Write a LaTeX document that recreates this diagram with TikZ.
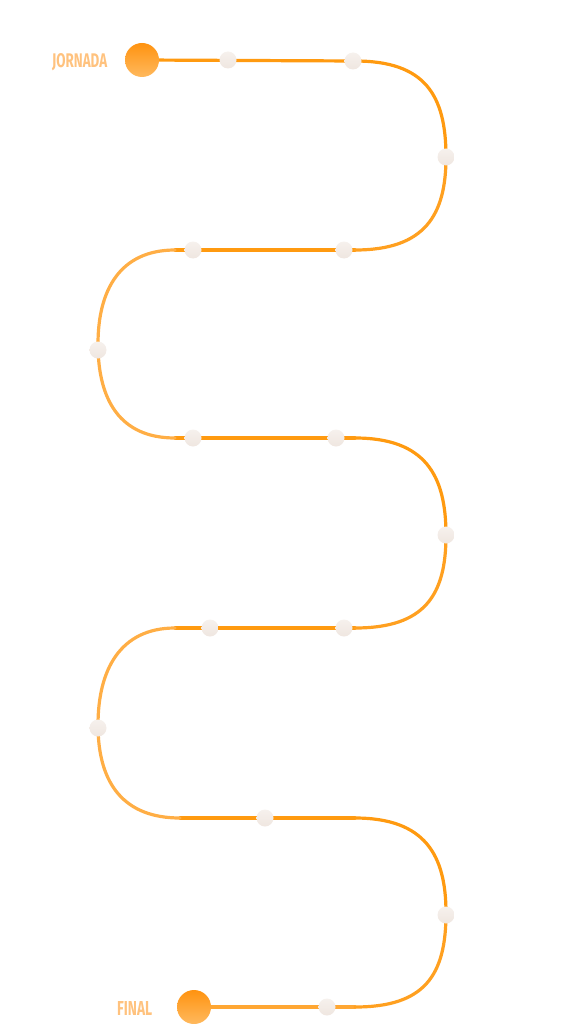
\documentclass[tikz,border=0pt]{standalone}
\usepackage{fontspec}
\usepackage{graphicx}
\newfontfamily\lblfont{Fira Sans}
\definecolor{ordark}{HTML}{FF9A10}
\definecolor{orlight}{HTML}{FFAE45}
\definecolor{orbot}{HTML}{FFA733}
\definecolor{dotc}{HTML}{EFE6E0}
\definecolor{dottop}{HTML}{F6F1ED}
\definecolor{lblc}{HTML}{FFC27E}
\definecolor{bigtop}{HTML}{FF9310}
\definecolor{bigbot}{HTML}{FFB95E}
\tikzset{
  road/.style={line width=3.2pt, line cap=round},
  dotn/.style={circle, inner sep=0pt, minimum size=17pt, top color=dottop, bottom color=dotc, draw=none},
  bignode/.style={circle, inner sep=0pt, minimum size=34pt, top color=bigtop, bottom color=bigbot, draw=none},
  lbl/.style={inner sep=0pt, text=lblc, font=\lblfont\bfseries}
}
\begin{document}
\begin{tikzpicture}[x=1pt,y=-1pt]
\useasboundingbox (0,0) rectangle (570,1024);
% path coordinates
\coordinate (s) at (142,60);
\coordinate (r1a) at (355,61);
\coordinate (r1m) at (446,157);
\coordinate (r1b) at (355,250);
\coordinate (l1a) at (175,250);
\coordinate (l1m) at (98,344);
\coordinate (l1b) at (175,438);
\coordinate (r2a) at (355,438);
\coordinate (r2m) at (446,535);
\coordinate (r2b) at (355,628);
\coordinate (l2a) at (175,628);
\coordinate (l2m) at (98,725);
\coordinate (l2b) at (180,818);
\coordinate (r3a) at (355,818);
\coordinate (r3m) at (446,913);
\coordinate (r3b) at (355,1007);
\coordinate (e) at (194,1007);
% straight segments
\draw[road, ordark] (s) -- (r1a);
\draw[road, ordark] (r1b) -- (l1a);
\draw[road, ordark] (l1b) -- (r2a);
\draw[road, ordark] (r2b) -- (l2a);
\draw[road, ordark] (l2b) -- (r3a);
\draw[road, orbot] (r3b) -- (e);
% right curves
\draw[road, ordark] (r1a) .. controls (425,61) and (446,95) .. (r1m);
\draw[road, ordark!70!orlight] (r1m) .. controls (446,215) and (425,250) .. (r1b);
\draw[road, ordark] (r2a) .. controls (425,438) and (446,475) .. (r2m);
\draw[road, ordark!70!orlight] (r2m) .. controls (446,595) and (425,628) .. (r2b);
\draw[road, ordark] (r3a) .. controls (425,818) and (446,855) .. (r3m);
\draw[road, ordark!70!orlight] (r3m) .. controls (446,975) and (425,1007) .. (r3b);
% left curves
\draw[road, orlight] (l1a) .. controls (120,250) and (98,290) .. (l1m);
\draw[road, orlight] (l1m) .. controls (98,400) and (120,438) .. (l1b);
\draw[road, orlight] (l2a) .. controls (120,628) and (98,670) .. (l2m);
\draw[road, orlight] (l2m) .. controls (98,785) and (125,818) .. (l2b);
% big end circles
\node[bignode] (start) at (s) {};
\node[bignode] (final) at (e) {};
% labels
\node[lbl, anchor=west] (jornada) at (52,62) {\resizebox{55pt}{14pt}{JORNADA}};
\node[lbl, anchor=west] (finallbl) at (117,1008) {\resizebox{35pt}{14pt}{FINAL}};
% dots
\node[dotn] (d1) at (228,60) {};
\node[dotn] (d2) at (353,61) {};
\node[dotn] (d3) at (446,157) {};
\node[dotn] (d4) at (193,250) {};
\node[dotn] (d5) at (344,250) {};
\node[dotn] (d6) at (98,350) {};
\node[dotn] (d7) at (193,438) {};
\node[dotn] (d8) at (336,438) {};
\node[dotn] (d9) at (446,535) {};
\node[dotn] (d10) at (210,628) {};
\node[dotn] (d11) at (344,628) {};
\node[dotn] (d12) at (98,728) {};
\node[dotn] (d13) at (265,818) {};
\node[dotn] (d14) at (446,915) {};
\node[dotn] (d15) at (327,1007) {};
\end{tikzpicture}
\end{document}
